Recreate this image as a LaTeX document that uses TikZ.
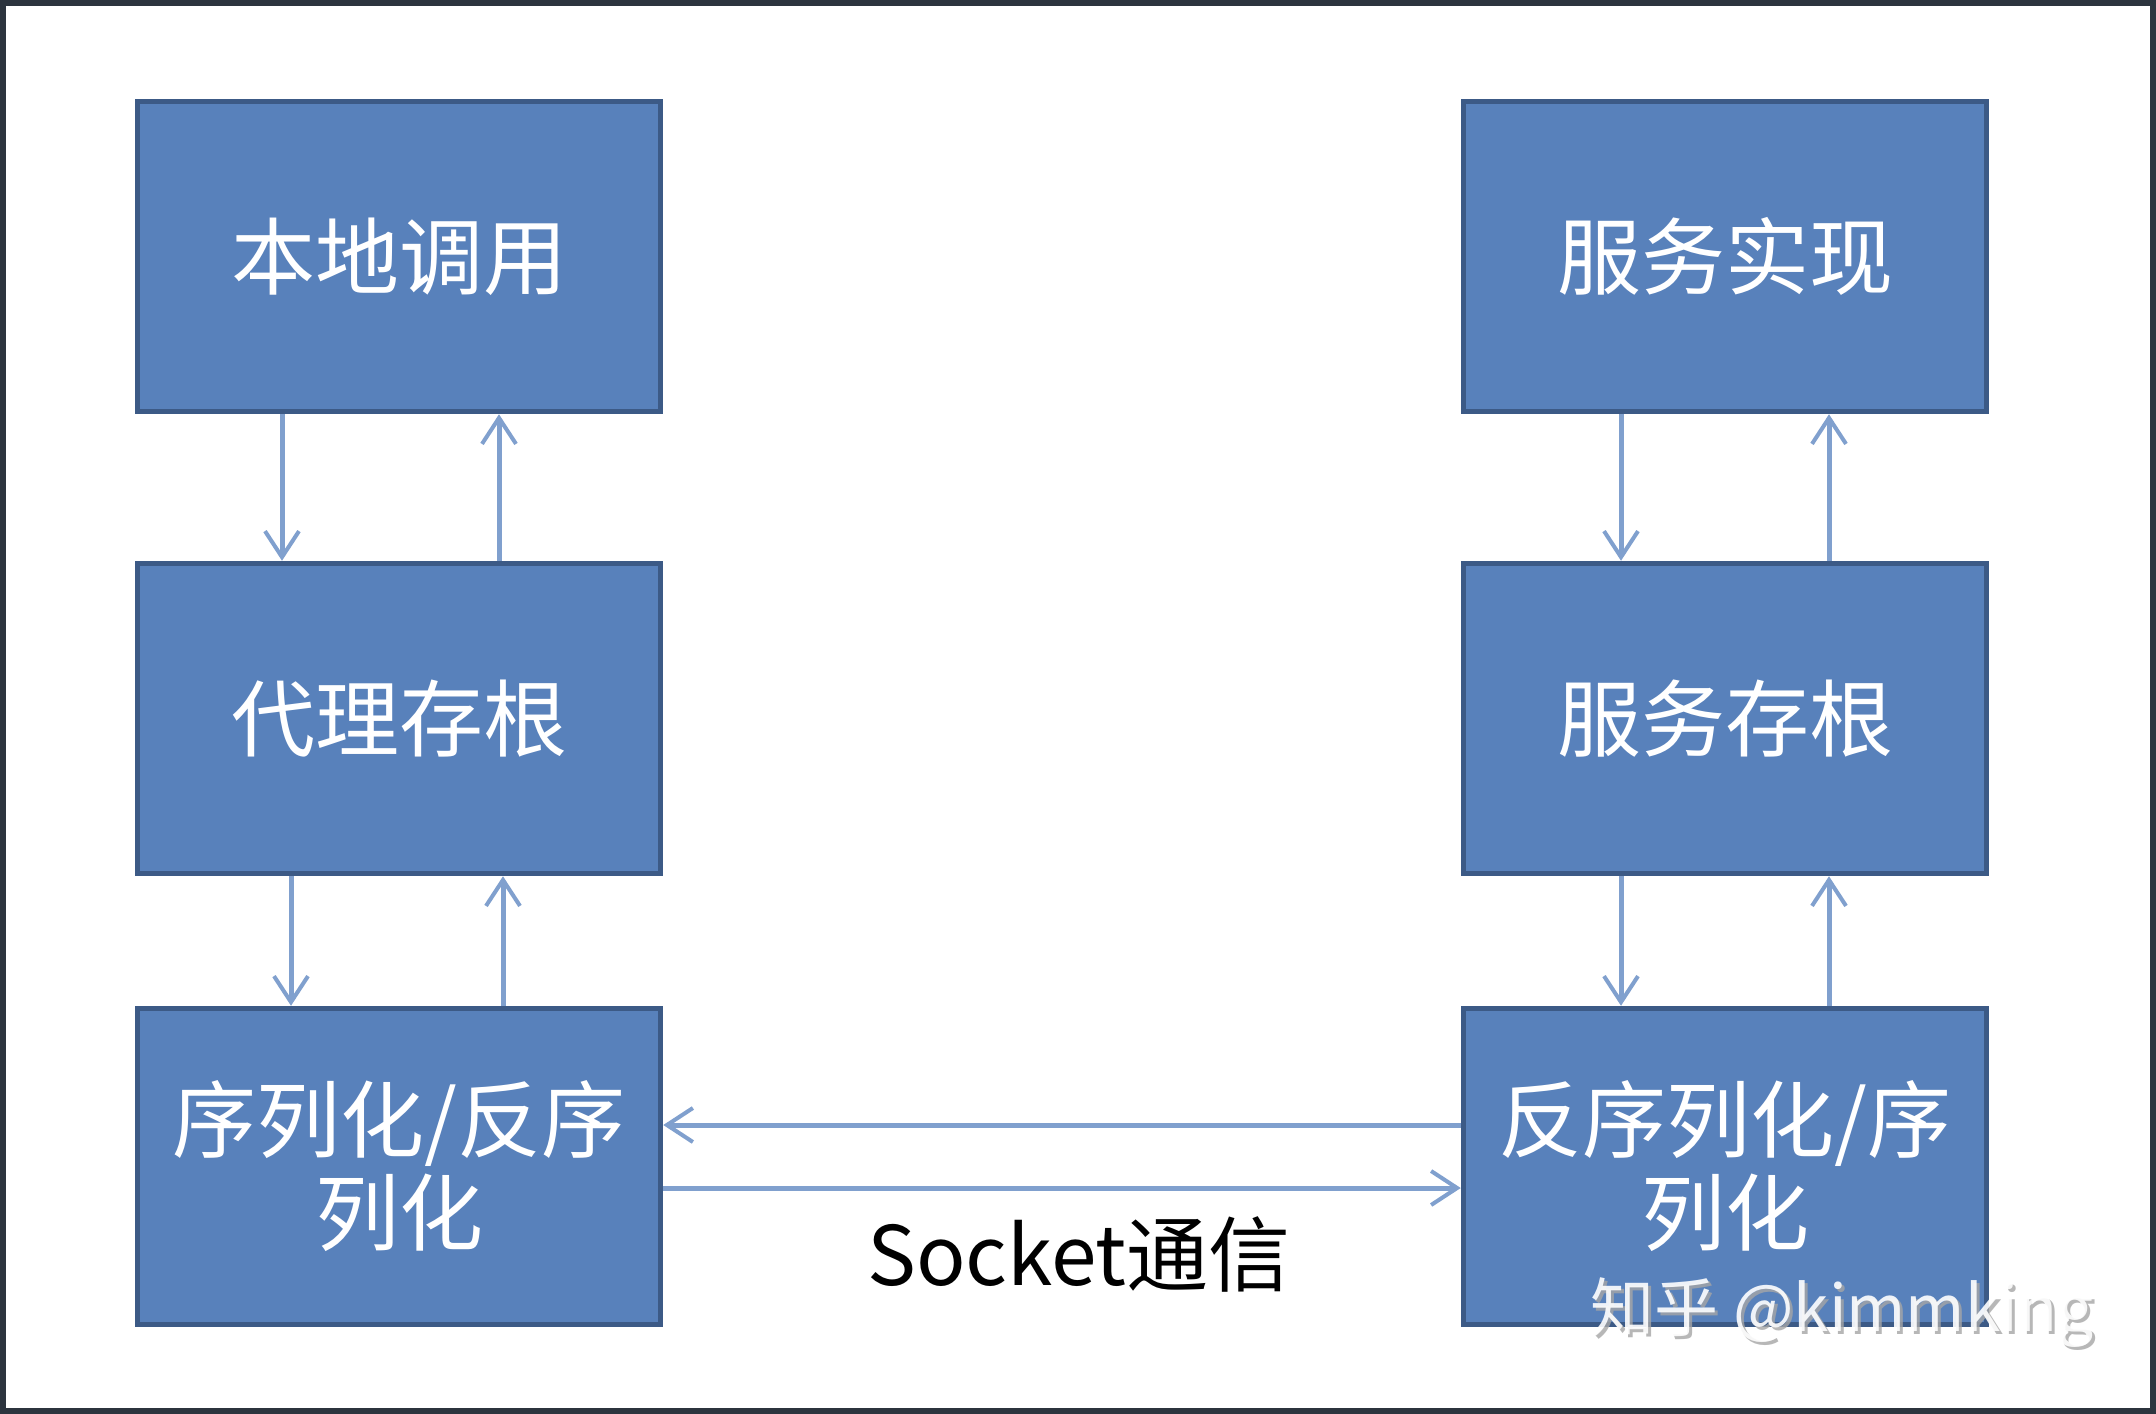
\documentclass[tikz,border=0pt]{standalone}
\usepackage{fontspec}
\setmainfont{Noto Sans CJK SC}
\usetikzlibrary{arrows.meta}
\definecolor{boxfill}{RGB}{88,129,187}
\definecolor{boxline}{RGB}{60,90,134}
\definecolor{arrowc}{RGB}{128,160,206}
\definecolor{framec}{RGB}{44,52,62}
\tikzset{
  stage/.style={draw=boxline, line width=5.5pt, fill=boxfill, text=white,
    minimum width=523pt, minimum height=310pt, align=center,
    font=\fontsize{84}{93}\selectfont, inner sep=0pt},
  tall/.style={minimum height=316pt},
  flow/.style={draw=arrowc, line width=5pt,
    -{Straight Barb[length=26pt, width=34pt, line width=4pt]}},
  caption/.style={font=\fontsize{82}{90}\selectfont, text=black},
  wmtext/.style={font=\fontsize{64}{68}\selectfont}
}
\begin{document}
\begin{tikzpicture}[x=1pt, y=-1pt]
  \useasboundingbox (0,0) rectangle (2156,1414);
  \fill[white] (0,0) rectangle (2156,1414);
  \draw[framec, line width=6pt] (3,3) rectangle (2153,1411);

  % client side
  \node[stage] (call) at (399,256.5) {本地调用};
  \node[stage] (proxy) at (399,718.5) {代理存根};
  \node[stage, tall] (ser) at (399,1166.5) {序列化/反序\\列化};

  % server side
  \node[stage] (impl) at (1725,256.5) {服务实现};
  \node[stage] (skel) at (1725,718.5) {服务存根};
  \node[stage, tall] (deser) at (1725,1166.5) {反序列化/序\\列化};

  % client vertical flow
  \draw[flow] ([xshift=-117pt]call.south) -- ([xshift=-117pt]proxy.north);
  \draw[flow] ([xshift=100pt]proxy.north) -- ([xshift=100pt]call.south);
  \draw[flow] ([xshift=-108pt]proxy.south) -- ([xshift=-108pt]ser.north);
  \draw[flow] ([xshift=104pt]ser.north) -- ([xshift=104pt]proxy.south);

  % server vertical flow
  \draw[flow] ([xshift=-104pt]impl.south) -- ([xshift=-104pt]skel.north);
  \draw[flow] ([xshift=104pt]skel.north) -- ([xshift=104pt]impl.south);
  \draw[flow] ([xshift=-104pt]skel.south) -- ([xshift=-104pt]deser.north);
  \draw[flow] ([xshift=104pt]deser.north) -- ([xshift=104pt]skel.south);

  % socket link
  \draw[flow] ([yshift=41.5pt]deser.west) -- ([yshift=41.5pt]ser.east);
  \draw[flow] ([yshift=-21.5pt]ser.east) -- ([yshift=-21.5pt]deser.west);
  \node[caption] (sock) at (1079,1254) {Socket通信};

  % watermark
  \node[wmtext, text=gray!70, opacity=0.8] (wmshade) at (1845,1316) {知乎 @kimmking};
  \node[wmtext, text=white, opacity=0.9] (wm) at (1842,1313) {知乎 @kimmking};
\end{tikzpicture}
\end{document}
